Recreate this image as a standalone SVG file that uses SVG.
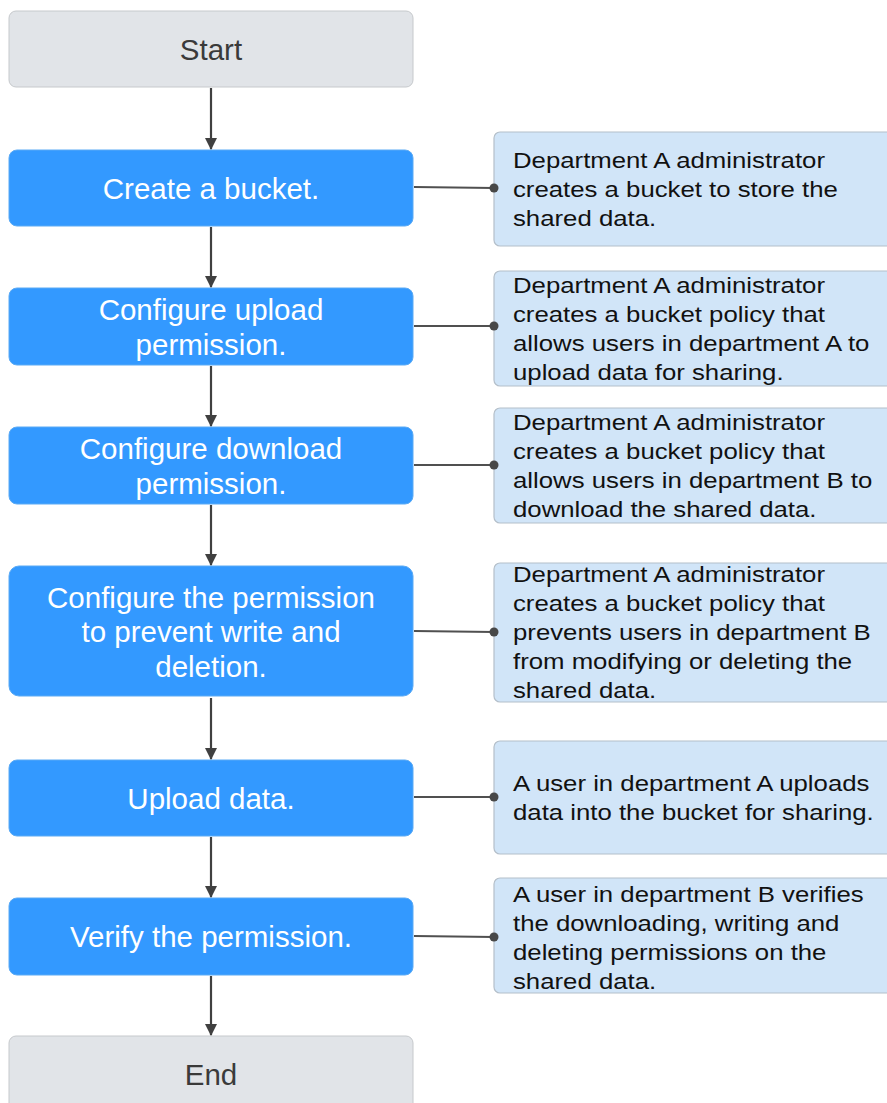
<svg xmlns="http://www.w3.org/2000/svg" width="887" height="1103" viewBox="0 0 887 1103">
<style>
.term{fill:#e1e4e8;stroke:#c6c9cc;stroke-width:1}
.step{fill:#3399ff;stroke:#5aaaf5;stroke-width:1}
.note{fill:#d1e5f8;stroke:#b4bfca;stroke-width:1.2}
.tt{font-family:"Liberation Sans",Arial,sans-serif;font-size:29.5px;fill:#3a3a3a;text-anchor:middle}
.st{font-family:"Liberation Sans",Arial,sans-serif;font-size:29.5px;fill:#ffffff;text-anchor:middle}
.nt{font-family:"Liberation Sans",Arial,sans-serif;font-size:22.5px;fill:#111111}
.flow{stroke:#404040;stroke-width:2.2;fill:none}
.link{stroke:#505050;stroke-width:2.2;fill:none}
.dot{fill:#484848}
</style>
<defs>
<marker id="ah" markerWidth="12" markerHeight="14" refX="11" refY="6" orient="auto" markerUnits="userSpaceOnUse">
<path d="M0,0 L12,6 L0,12 Z" fill="#404040"/>
</marker>
</defs>
<rect width="887" height="1103" fill="#ffffff"/>
<g id="start"><rect class="term" x="9" y="11" width="404" height="76" rx="7"/><text class="tt" x="211" y="60">Start</text></g>
<g id="create"><rect class="step" x="9" y="150" width="404" height="76" rx="8"/><text class="st" x="211" y="198.5">Create a bucket.</text></g>
<g id="upload-perm"><rect class="step" x="9" y="288" width="404" height="77" rx="8"/><text class="st" x="211" y="320">Configure upload</text><text class="st" x="211" y="354.5">permission.</text></g>
<g id="download-perm"><rect class="step" x="9" y="427" width="404" height="77" rx="8"/><text class="st" x="211" y="459">Configure download</text><text class="st" x="211" y="493.5">permission.</text></g>
<g id="prevent-perm"><rect class="step" x="9" y="566" width="404" height="130" rx="10"/><text class="st" x="211" y="607.5">Configure the permission</text><text class="st" x="211" y="642">to prevent write and</text><text class="st" x="211" y="676.5">deletion.</text></g>
<g id="upload-data"><rect class="step" x="9" y="760" width="404" height="76" rx="8"/><text class="st" x="211" y="808.5">Upload data.</text></g>
<g id="verify"><rect class="step" x="9" y="898" width="404" height="77" rx="8"/><text class="st" x="211" y="947">Verify the permission.</text></g>
<g id="end"><rect class="term" x="9" y="1036" width="404" height="80" rx="7"/><text class="tt" x="211" y="1084.5">End</text></g>
<g id="note1"><rect class="note" x="494" y="132" width="400" height="114" rx="6"/>
<text class="nt" transform="translate(513 0) scale(1.145 1)"><tspan x="0" y="168">Department A administrator</tspan><tspan x="0" y="197">creates a bucket to store the</tspan><tspan x="0" y="226">shared data.</tspan></text></g>
<g id="note2"><rect class="note" x="494" y="271" width="400" height="115" rx="6"/>
<text class="nt" transform="translate(513 0) scale(1.145 1)"><tspan x="0" y="293">Department A administrator</tspan><tspan x="0" y="322">creates a bucket policy that</tspan><tspan x="0" y="351">allows users in department A to</tspan><tspan x="0" y="380">upload data for sharing.</tspan></text></g>
<g id="note3"><rect class="note" x="494" y="408" width="400" height="115" rx="6"/>
<text class="nt" transform="translate(513 0) scale(1.145 1)"><tspan x="0" y="430">Department A administrator</tspan><tspan x="0" y="459">creates a bucket policy that</tspan><tspan x="0" y="488">allows users in department B to</tspan><tspan x="0" y="517">download the shared data.</tspan></text></g>
<g id="note4"><rect class="note" x="494" y="563" width="400" height="139" rx="6"/>
<text class="nt" transform="translate(513 0) scale(1.145 1)"><tspan x="0" y="582">Department A administrator</tspan><tspan x="0" y="611">creates a bucket policy that</tspan><tspan x="0" y="640">prevents users in department B</tspan><tspan x="0" y="669">from modifying or deleting the</tspan><tspan x="0" y="698">shared data.</tspan></text></g>
<g id="note5"><rect class="note" x="494" y="741" width="400" height="113" rx="6"/>
<text class="nt" transform="translate(513 0) scale(1.145 1)"><tspan x="0" y="791">A user in department A uploads</tspan><tspan x="0" y="820">data into the bucket for sharing.</tspan></text></g>
<g id="note6"><rect class="note" x="494" y="878" width="400" height="115" rx="6"/>
<text class="nt" transform="translate(513 0) scale(1.145 1)"><tspan x="0" y="902">A user in department B verifies</tspan><tspan x="0" y="931">the downloading, writing and</tspan><tspan x="0" y="960">deleting permissions on the</tspan><tspan x="0" y="989">shared data.</tspan></text></g>
<g id="connectors">
<line class="flow" x1="211" y1="88" x2="211" y2="149" marker-end="url(#ah)"/>
<line class="flow" x1="211" y1="227" x2="211" y2="287" marker-end="url(#ah)"/>
<line class="flow" x1="211" y1="366" x2="211" y2="426" marker-end="url(#ah)"/>
<line class="flow" x1="211" y1="505" x2="211" y2="565" marker-end="url(#ah)"/>
<line class="flow" x1="211" y1="698" x2="211" y2="759" marker-end="url(#ah)"/>
<line class="flow" x1="211" y1="837" x2="211" y2="897" marker-end="url(#ah)"/>
<line class="flow" x1="211" y1="976" x2="211" y2="1035" marker-end="url(#ah)"/>
<line class="link" x1="414" y1="187" x2="494" y2="188"/><circle class="dot" cx="494" cy="188" r="4.5"/>
<line class="link" x1="414" y1="326" x2="494" y2="326"/><circle class="dot" cx="494" cy="326" r="4.5"/>
<line class="link" x1="414" y1="465" x2="494" y2="465"/><circle class="dot" cx="494" cy="465" r="4.5"/>
<line class="link" x1="414" y1="631" x2="494" y2="632"/><circle class="dot" cx="494" cy="632" r="4.5"/>
<line class="link" x1="414" y1="797" x2="494" y2="797"/><circle class="dot" cx="494" cy="797" r="4.5"/>
<line class="link" x1="414" y1="936" x2="494" y2="937"/><circle class="dot" cx="494" cy="937" r="4.5"/>
</g>
</svg>
